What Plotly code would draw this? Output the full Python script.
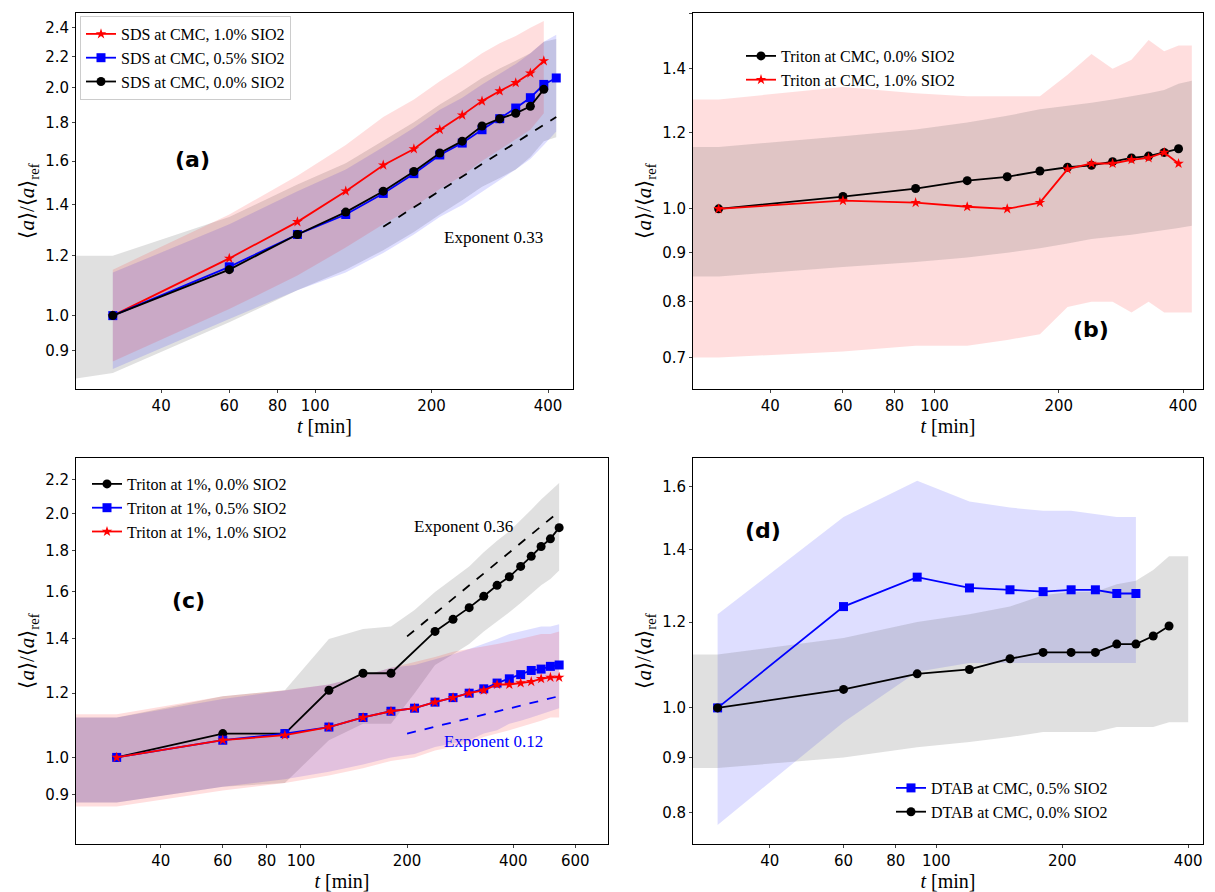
import math
from plotly.subplots import make_subplots
import plotly.graph_objects as go

# ---- panel (a): SDS at CMC
t_a = [30, 60, 90, 120, 150, 180, 210, 240, 270, 300, 330, 360, 390]
t_a05 = t_a + [420]
sds_10 = [1.0, 1.19, 1.33, 1.46, 1.58, 1.66, 1.76, 1.84, 1.92, 1.98, 2.03, 2.09, 2.17]
sds_05 = [1.0, 1.16, 1.28, 1.36, 1.45, 1.54, 1.63, 1.69, 1.76, 1.82, 1.88, 1.94, 2.02, 2.06]
sds_00 = [1.0, 1.15, 1.28, 1.37, 1.46, 1.55, 1.64, 1.70, 1.78, 1.82, 1.85, 1.89, 1.99]
band_t_a = [22, 30, 60, 90, 120, 150, 180, 210, 240, 270, 300, 330, 360, 390, 420]
sds_00_lo = [0.82, 0.84, 0.98, 1.08, 1.15, 1.22, 1.29, 1.36, 1.42, 1.48, 1.52, 1.56, 1.62, 1.70, 1.72]
sds_00_hi = [1.20, 1.20, 1.35, 1.49, 1.59, 1.70, 1.80, 1.90, 1.98, 2.06, 2.12, 2.17, 2.22, 2.30, 2.32]
band_t_a2 = [30, 60, 90, 120, 150, 180, 210, 240, 270, 300, 330, 360, 390]
sds_10_lo = [0.87, 1.02, 1.13, 1.23, 1.32, 1.39, 1.47, 1.53, 1.60, 1.66, 1.71, 1.76, 1.85]
sds_10_hi = [1.15, 1.36, 1.53, 1.68, 1.83, 1.93, 2.04, 2.13, 2.22, 2.29, 2.34, 2.40, 2.45]
band_t_a3 = [30, 60, 90, 120, 150, 180, 210, 240, 270, 300, 330, 360, 390, 420]
sds_05_lo = [0.85, 0.99, 1.08, 1.14, 1.21, 1.28, 1.35, 1.40, 1.46, 1.51, 1.56, 1.61, 1.68, 1.75]
sds_05_hi = [1.14, 1.32, 1.46, 1.56, 1.67, 1.77, 1.87, 1.94, 2.02, 2.09, 2.15, 2.22, 2.30, 2.35]
fit_a_t = [150, 420]
fit_a_y = [1.31, 1.83]

# ---- panel (b): Triton at CMC
t_b = [30, 60, 90, 120, 150, 180, 210, 240, 270, 300, 330, 360, 390]
tri_00 = [1.0, 1.03, 1.05, 1.07, 1.08, 1.095, 1.105, 1.11, 1.12, 1.13, 1.135, 1.145, 1.155]
tri_10 = [1.0, 1.02, 1.015, 1.005, 1.0, 1.015, 1.1, 1.115, 1.115, 1.125, 1.13, 1.145, 1.115]
band_t_b = [22, 30, 60, 90, 120, 150, 180, 210, 240, 270, 300, 330, 360, 390, 420]
tri_10_lo = [0.70, 0.70, 0.71, 0.72, 0.72, 0.73, 0.74, 0.79, 0.80, 0.80, 0.78, 0.80, 0.78, 0.78, 0.78]
tri_10_hi = [1.30, 1.30, 1.34, 1.32, 1.31, 1.31, 1.31, 1.38, 1.45, 1.40, 1.43, 1.50, 1.46, 1.48, 1.48]
tri_00_lo = [0.85, 0.85, 0.87, 0.88, 0.89, 0.90, 0.91, 0.92, 0.93, 0.935, 0.94, 0.945, 0.95, 0.955, 0.96]
tri_00_hi = [1.16, 1.16, 1.19, 1.21, 1.23, 1.25, 1.27, 1.28, 1.29, 1.30, 1.31, 1.32, 1.33, 1.35, 1.36]

# ---- panel (c): Triton at 1%
t_c = [30, 60, 90, 120, 150, 180, 240, 270, 300, 330, 360, 390, 420, 450, 480, 510, 540]
t1_00 = [1.0, 1.07, 1.07, 1.21, 1.27, 1.27, 1.43, 1.48, 1.53, 1.58, 1.63, 1.67, 1.72, 1.77, 1.82, 1.86, 1.92]
t_c2 = [30, 60, 90, 120, 150, 180, 210, 240, 270, 300, 330, 360, 390, 420, 450, 480, 510, 540]
t1_05 = [1.0, 1.05, 1.07, 1.09, 1.12, 1.14, 1.15, 1.17, 1.185, 1.20, 1.215, 1.235, 1.25, 1.265, 1.28, 1.285, 1.295, 1.30]
t1_10 = [1.0, 1.05, 1.065, 1.09, 1.12, 1.14, 1.15, 1.17, 1.185, 1.20, 1.21, 1.23, 1.23, 1.235, 1.24, 1.25, 1.255, 1.255]
band_t_c = [22, 30, 60, 90, 120, 150, 180, 210, 240, 270, 300, 330, 360, 390, 420, 450, 480, 510, 540]
t1_00_lo = [0.88, 0.88, 0.92, 0.93, 1.05, 1.10, 1.10, 1.20, 1.30, 1.34, 1.38, 1.43, 1.47, 1.51, 1.55, 1.59, 1.63, 1.66, 1.70]
t1_00_hi = [1.12, 1.12, 1.19, 1.21, 1.40, 1.44, 1.45, 1.52, 1.60, 1.66, 1.72, 1.79, 1.85, 1.90, 1.96, 2.02, 2.08, 2.13, 2.18]
t1_05_lo = [0.88, 0.88, 0.92, 0.94, 0.96, 0.98, 1.0, 1.01, 1.03, 1.04, 1.05, 1.07, 1.08, 1.10, 1.11, 1.12, 1.13, 1.14, 1.15]
t1_05_hi = [1.12, 1.12, 1.18, 1.21, 1.23, 1.26, 1.29, 1.30, 1.32, 1.34, 1.36, 1.38, 1.40, 1.42, 1.43, 1.44, 1.45, 1.45, 1.46]
t1_10_lo = [0.87, 0.87, 0.91, 0.93, 0.95, 0.97, 0.99, 1.0, 1.02, 1.03, 1.04, 1.06, 1.07, 1.08, 1.09, 1.10, 1.11, 1.12, 1.12]
t1_10_hi = [1.13, 1.13, 1.19, 1.21, 1.23, 1.26, 1.29, 1.31, 1.33, 1.35, 1.36, 1.37, 1.38, 1.39, 1.40, 1.41, 1.42, 1.42, 1.43]
fit_c1_t = [200, 540]
fit_c1_y = [1.41, 2.01]
fit_c2_t = [200, 540]
fit_c2_y = [1.07, 1.19]

# ---- panel (d): DTAB at CMC
t_d05 = [30, 60, 90, 120, 150, 180, 210, 240, 270, 300]
dtab_05 = [1.0, 1.24, 1.32, 1.29, 1.285, 1.28, 1.285, 1.285, 1.275, 1.275]
t_d00 = [30, 60, 90, 120, 150, 180, 210, 240, 270, 300, 330, 360]
dtab_00 = [1.0, 1.04, 1.075, 1.085, 1.11, 1.125, 1.125, 1.125, 1.145, 1.145, 1.165, 1.19]
band_t_d05 = [30, 60, 90, 120, 150, 180, 210, 240, 270, 300]
dtab_05_lo = [0.78, 0.97, 1.08, 1.10, 1.10, 1.10, 1.10, 1.10, 1.10, 1.10]
dtab_05_hi = [1.22, 1.50, 1.62, 1.55, 1.53, 1.52, 1.52, 1.51, 1.50, 1.50]
band_t_d00 = [22, 30, 60, 90, 120, 150, 180, 210, 240, 270, 300, 330, 360, 400]
dtab_00_lo = [0.88, 0.88, 0.90, 0.92, 0.93, 0.94, 0.95, 0.95, 0.95, 0.96, 0.96, 0.96, 0.97, 0.97]
dtab_00_hi = [1.12, 1.12, 1.16, 1.20, 1.22, 1.24, 1.27, 1.28, 1.28, 1.30, 1.31, 1.34, 1.38, 1.38]

RED, BLUE, BLACK = "#ff0000", "#0000ff", "#000000"
FILL = {"red": "rgba(255,0,0,0.13)", "blue": "rgba(0,0,255,0.13)", "grey": "rgba(100,100,100,0.2)"}
SYM = {RED: "star", BLUE: "square", BLACK: "circle"}

fig = make_subplots(rows=2, cols=2)


def band(t, lo, hi, col, r, c):
    fig.add_trace(go.Scatter(x=t + t[::-1], y=hi + lo[::-1], fill="toself", fillcolor=FILL[col],
                             line=dict(width=0), mode="lines", showlegend=False, hoverinfo="skip"), row=r, col=c)


def curve(t, y, color, name, r, c, leg):
    fig.add_trace(go.Scatter(x=t, y=y, mode="lines+markers", name=name, legend=leg,
                             line=dict(color=color, width=1.8),
                             marker=dict(symbol=SYM[color], size=9 if color != RED else 8, color=color)),
                  row=r, col=c)


def dashed(t, y, color, r, c):
    fig.add_trace(go.Scatter(x=t, y=y, mode="lines", line=dict(color=color, dash="dash", width=1.8),
                             showlegend=False), row=r, col=c)


# (a)
band(band_t_a, sds_00_lo, sds_00_hi, "grey", 1, 1)
band(band_t_a3, sds_05_lo, sds_05_hi, "blue", 1, 1)
band(band_t_a2, sds_10_lo, sds_10_hi, "red", 1, 1)
curve(t_a, sds_10, RED, "SDS at CMC, 1.0% SIO2", 1, 1, "legend")
curve(t_a05, sds_05, BLUE, "SDS at CMC, 0.5% SIO2", 1, 1, "legend")
curve(t_a, sds_00, BLACK, "SDS at CMC, 0.0% SIO2", 1, 1, "legend")
dashed(fit_a_t, fit_a_y, BLACK, 1, 1)

# (b)
band(band_t_b, tri_10_lo, tri_10_hi, "red", 1, 2)
band(band_t_b, tri_00_lo, tri_00_hi, "grey", 1, 2)
curve(t_b, tri_00, BLACK, "Triton at CMC, 0.0% SIO2", 1, 2, "legend2")
curve(t_b, tri_10, RED, "Triton at CMC, 1.0% SIO2", 1, 2, "legend2")

# (c)
band(band_t_c, t1_00_lo, t1_00_hi, "grey", 2, 1)
band(band_t_c, t1_05_lo, t1_05_hi, "blue", 2, 1)
band(band_t_c, t1_10_lo, t1_10_hi, "red", 2, 1)
curve(t_c, t1_00, BLACK, "Triton at 1%, 0.0% SIO2", 2, 1, "legend3")
curve(t_c2, t1_05, BLUE, "Triton at 1%, 0.5% SIO2", 2, 1, "legend3")
curve(t_c2, t1_10, RED, "Triton at 1%, 1.0% SIO2", 2, 1, "legend3")
dashed(fit_c1_t, fit_c1_y, BLACK, 2, 1)
dashed(fit_c2_t, fit_c2_y, BLUE, 2, 1)

# (d)
band(band_t_d05, dtab_05_lo, dtab_05_hi, "blue", 2, 2)
band(band_t_d00, dtab_00_lo, dtab_00_hi, "grey", 2, 2)
curve(t_d05, dtab_05, BLUE, "DTAB at CMC, 0.5% SIO2", 2, 2, "legend4")
curve(t_d00, dtab_00, BLACK, "DTAB at CMC, 0.0% SIO2", 2, 2, "legend4")

W, H = 1215, 892
xdom = {1: [68 / W, 565 / W], 2: [685 / W, 1195 / W], 3: [68 / W, 600 / W], 4: [685 / W, 1195 / W]}
ydom = {1: [1 - 381 / H, 1 - 5 / H], 2: [1 - 381 / H, 1 - 5 / H], 3: [1 - 836 / H, 1 - 450 / H], 4: [1 - 836 / H, 1 - 450 / H]}
xr = {1: [24.1, 464], 2: [26, 447], 3: [23, 743], 4: [26.2, 434]}
yr = {1: [0.80, 2.51], 2: [0.649, 1.6], 3: [0.782, 2.34], 4: [0.749, 1.70]}
yt = {1: [0.9, 1.0, 1.2, 1.4, 1.6, 1.8, 2.0, 2.2, 2.4], 2: [0.7, 0.8, 0.9, 1.0, 1.2, 1.4, 1.6],
      3: [0.9, 1.0, 1.2, 1.4, 1.6, 1.8, 2.0, 2.2], 4: [0.8, 0.9, 1.0, 1.2, 1.4, 1.6]}
xt = {1: [40, 60, 80, 100, 200, 400], 2: [40, 60, 80, 100, 200, 400],
      3: [40, 60, 80, 100, 200, 400, 600], 4: [40, 60, 80, 100, 200, 400]}
tickfont = dict(family="DejaVu Sans", size=15, color="black")
serif = "Liberation Serif"
ytitle = "⟨<i>a</i>⟩/⟨<i>a</i>⟩<sub>ref</sub>"
for i in range(1, 5):
    s = "" if i == 1 else str(i)
    fig.layout["xaxis" + s].update(type="log", domain=xdom[i], range=[math.log10(v) for v in xr[i]],
                                   tickvals=xt[i], ticktext=[str(v) for v in xt[i]], tickfont=tickfont,
                                   ticks="outside", ticklen=3, showline=True, mirror=True, linecolor="black",
                                   showgrid=False, zeroline=False,
                                   title=dict(text="<i>t</i> [min]", font=dict(family=serif, size=20, color="black"),
                                              standoff=0))
    fig.layout["yaxis" + s].update(type="log", domain=ydom[i], range=[math.log10(v) for v in yr[i]],
                                   tickvals=yt[i], ticktext=["%.1f" % v for v in yt[i]], tickfont=tickfont,
                                   ticks="outside", ticklen=3, showline=True, mirror=True, linecolor="black",
                                   showgrid=False, zeroline=False,
                                   title=dict(text=ytitle, font=dict(family=serif, size=21, color="black"),
                                              standoff=4))

legbase = dict(font=dict(family=serif, size=16, color="black"), bgcolor="rgba(255,255,255,0.8)",
               bordercolor="#cccccc", borderwidth=1, xanchor="left", yanchor="top", tracegroupgap=0)
clear = dict(bordercolor="rgba(0,0,0,0)", bgcolor="rgba(0,0,0,0)")
fig.update_layout(
    width=W, height=H, margin=dict(l=0, r=0, t=0, b=0), plot_bgcolor="white", paper_bgcolor="white",
    legend=dict(legbase, x=72 / W, y=1 - 8 / H),
    legend2=dict(legbase, **{**clear, "x": 732 / W, "y": 1 - 30 / H}),
    legend3=dict(legbase, **{**clear, "x": 78 / W, "y": 1 - 458 / H}),
    legend4=dict(legbase, **{**clear, "x": 882 / W, "y": 1 - 762 / H}),
)

labels = [("x", "y", 0.195, 0.61, "(a)"), ("x2", "y2", 0.82, 0.12, "(b)"),
          ("x3", "y3", 0.177, 0.63, "(c)"), ("x4", "y4", 0.098, 0.85, "(d)")]
for xa, ya, px, py, txt in labels:
    fig.add_annotation(xref=xa + " domain", yref=ya + " domain", x=px, y=py, text="<b>%s</b>" % txt,
                       showarrow=False, font=dict(family="DejaVu Sans", size=22, color="black"))
notes = [(485, 218, "Exponent 0.33", "black"), (455, 518, "Exponent 0.36", "black"),
         (485, 745, "Exponent 0.12", "blue")]
for px, py, txt, col in notes:
    fig.add_annotation(xref="paper", yref="paper", x=px / W, y=1 - py / H, text=txt, showarrow=False,
                       font=dict(family=serif, size=17, color=col))

fig.write_html("out.html")
